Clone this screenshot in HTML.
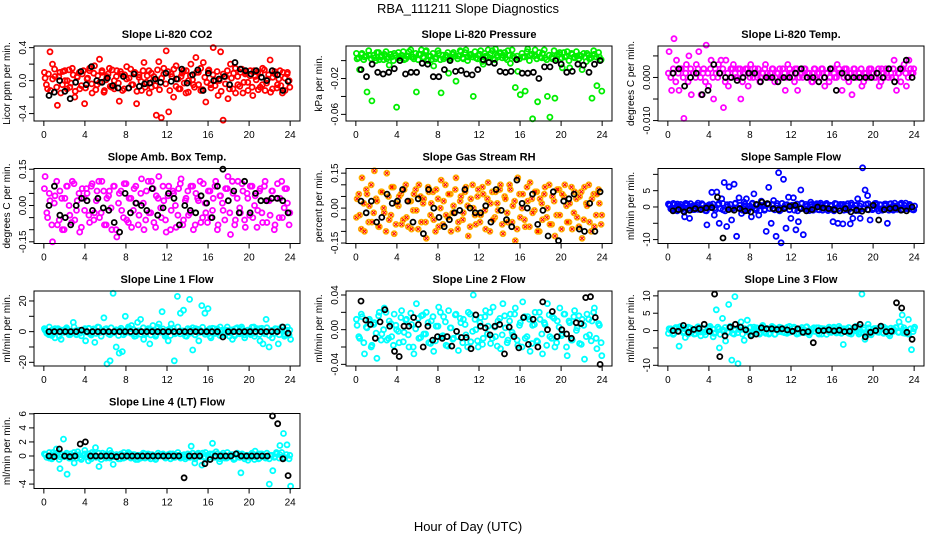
<!DOCTYPE html>
<html><head><meta charset="utf-8"><title>RBA_111211 Slope Diagnostics</title>
<style>
html,body{margin:0;padding:0;background:#fff;}
svg{display:block;font-family:"Liberation Sans",sans-serif;}
</style></head>
<body>
<svg id="chart" width="936" height="540" viewBox="0 0 936 540">
<text x="468" y="13" font-size="13" text-anchor="middle">RBA_111211  Slope Diagnostics</text>
<text x="468" y="531" font-size="13" text-anchor="middle">Hour of Day (UTC)</text>
</svg>
<script>
// ---------- data ----------
const xTicks = [0,4,8,12,16,20,24];
const xTickLabels = ["0","4","8","12","16","20","24"];

const co2Main = [0.03,-0.1,0.35,0.2,0.05,-0.3,0.1,-0.05,0.12,0.0,-0.08,0.15,-0.2,0.05,-0.1,0.08,-0.28,0.02,0.12,-0.15,0.18,-0.05,0.26,0.1,-0.12,0.05,0.15,-0.08,0.0,0.12,-0.25,0.08,-0.1,0.17,0.03,-0.05,0.1,-0.28,0.07,-0.12,0.22,-0.02,0.12,-0.08,0.05,-0.42,0.23,-0.45,0.15,0.36,-0.38,0.08,-0.2,0.18,-0.1,0.05,0.12,-0.15,0.0,0.2,-0.05,0.28,0.1,-0.12,0.22,-0.26,0.12,-0.05,0.4,0.0,-0.18,0.35,-0.48,0.05,-0.22,0.2,-0.1,0.15,-0.05,0.1,-0.15,0.08,-0.02,0.12,-0.18,0.05,0.1,-0.08,0.15,-0.12,0.02,0.25,-0.1,0.08,-0.05,0.12,-0.15,0.03,0.1,-0.08];
const co2Dense = [0.1,-0.05,0.08,-0.12,0.02,0.14,-0.08,0.05,-0.15,0.11,0.0,-0.1,0.13,-0.03,0.07,-0.13,0.04,0.1,-0.06,0.12,-0.09,0.03,0.15,-0.04,0.09,-0.11,0.06,-0.02,0.12,-0.14,0.01,0.08,-0.07,0.13,-0.1,0.05,-0.03,0.11,-0.12,0.07,0.02,-0.09,0.14,-0.05,0.1,-0.13,0.04,-0.01,0.12,-0.08,0.06,-0.15,0.09,0.0,-0.06,0.13,-0.11,0.03,0.08,-0.04,0.11,-0.12,0.05,0.14,-0.07,0.02,-0.1,0.09,-0.03,0.12,-0.14,0.06,0.01,-0.08,0.1,-0.05,0.15,-0.11,0.04,-0.02,0.13,-0.09,0.07,-0.06,0.11,0.0,-0.13,0.08,-0.04,0.12,-0.1,0.03,0.09,-0.15,0.05,-0.07,0.14,-0.02,0.1,-0.12,0.06,-0.08,0.12,0.01,-0.11,0.09,-0.05,0.13,-0.03,0.07,-0.14,0.04,0.11,-0.09,0.02,-0.06,0.1,-0.12,0.08,0.0];
const co2Black = [-0.18,-0.14,0.0,-0.13,-0.22,-0.02,0.11,-0.05,0.17,0.0,-0.02,0.03,-0.06,-0.09,0.05,-0.09,0.08,-0.07,-0.04,-0.03,0.02,-0.02,0.09,-0.01,0.02,0.14,-0.03,0.07,0.13,-0.12,0.09,0.0,0.02,0.05,-0.05,0.22,0.14,0.12,0.08,0.12,0.04,0.0,0.12,0.07,-0.12,-0.01];
const co2Ticks = [-0.4,-0.2,0,0.2,0.4];
const co2Labels = ["-0.4","","0.0","","0.4"];

const presMain = [0.002,-0.01,0.008,0.004,-0.035,0.006,-0.045,0.003,0.009,0.001,0.005,0.007,0.002,-0.005,0.004,0.008,-0.052,0.003,0.006,0.001,0.005,0.01,0.004,0.002,-0.035,0.007,0.012,0.003,0.011,0.005,0.001,-0.006,0.004,0.008,-0.036,0.002,0.006,-0.014,0.003,0.009,-0.023,0.005,0.01,0.002,0.012,0.004,0.007,-0.04,0.003,0.006,0.011,-0.004,0.005,0.012,0.008,0.002,0.013,0.004,0.009,0.006,0.003,0.011,-0.003,0.005,-0.03,-0.012,-0.038,0.004,-0.034,0.013,0.006,-0.065,0.012,-0.046,0.004,0.008,0.003,-0.04,-0.063,0.002,-0.042,0.006,0.009,-0.008,0.004,0.01,-0.008,0.007,0.003,0.005,0.006,-0.01,0.004,0.008,0.002,-0.042,0.007,-0.028,0.004,-0.034];
const presDense = [0.008,0.003,0.007,0.001,0.005,0.011,0.002,0.006,0.0,0.009,0.004,0.001,0.01,0.004,0.007,0.0,0.006,0.009,0.003,0.01,0.002,0.005,0.012,0.004,0.008,0.001,0.007,0.004,0.01,0.0,0.005,0.008,0.002,0.011,0.001,0.006,0.004,0.009,0.001,0.007,0.005,0.002,0.011,0.003,0.009,0.0,0.006,0.004,0.01,0.002,0.007,-0.001,0.008,0.005,0.003,0.011,0.001,0.006,0.008,0.003,0.009,0.001,0.006,0.012,0.003,0.005,0.002,0.008,0.004,0.01,0.0,0.007,0.005,0.002,0.009,0.003,0.012,0.001,0.006,0.004,0.011,0.002,0.007,0.003,0.009,0.005,0.0,0.008,0.004,0.01,0.002,0.005,0.008,-0.001,0.006,0.003,0.011,0.004,0.009,0.001];
const presBlack = [-0.01,-0.018,-0.004,-0.013,-0.015,-0.013,-0.009,0.0,-0.015,-0.013,-0.013,-0.003,-0.004,-0.018,-0.018,-0.01,0.0,-0.012,-0.011,-0.015,-0.016,-0.01,0.001,-0.002,-0.003,-0.012,-0.013,-0.012,0.001,-0.014,-0.014,-0.013,-0.02,-0.007,-0.007,0.0,-0.004,-0.013,-0.012,-0.004,-0.005,-0.013,-0.004,0.0];
const presTicks = [-0.06,-0.04,-0.02,0];
const presLabels = ["-0.06","","-0.02",""];

const ltMain = [0.006,-0.003,0.009,0.004,-0.003,0.002,-0.0095,0.003,0.005,-0.004,0.001,0.003,0.006,-0.004,0.002,0.0075,-0.002,0.004,-0.005,0.001,0.003,0.004,-0.007,0.004,-0.002,0.002,0.003,0.0,0.002,-0.005,0.001,0.002,-0.002,0.003,0.0,0.001,0.002,0.0,0.001,0.003,0.0,0.001,0.002,0.0,0.001,0.0,0.002,-0.003,0.003,0.001,0.0,0.002,-0.003,0.001,0.0,0.002,0.001,0.0,-0.001,0.002,0.001,0.0,0.002,-0.002,0.001,0.0,0.002,0.0,0.003,0.001,-0.003,0.002,0.0,0.001,-0.004,0.002,0.0,0.001,-0.002,0.001,0.0,0.002,0.001,0.0,0.001,-0.002,0.002,0.0,0.001,0.002,0.0,0.004,-0.003,0.001,0.002,0.003,-0.002,0.004,0.001,0.002];
const ltDense = [0.001,0.0,0.002,-0.001,0.001,0.002,0.0,0.001,-0.001,0.002,0.001,0.0,0.002,0.0,0.001,-0.001,0.001,0.002,0.0,0.002,0.0,0.001,0.002,-0.001,0.001,0.0,0.002,0.001,0.0,0.002,-0.001,0.001,0.002,0.0,0.001,0.002,0.0,-0.001,0.001,0.002,0.001,0.0,0.002,-0.001,0.001,0.002,0.0,0.001,0.0,0.002,0.001,-0.001,0.002,0.0,0.001,0.002,0.0,0.001,-0.001,0.002,0.0,0.001,0.002,0.0,0.001,-0.001,0.002,0.001,0.0,0.002,0.001,0.0,0.002,-0.001,0.001,0.002,0.0,0.001,0.002,-0.001,0.001,0.0,0.002,0.001,0.0,0.002,-0.001,0.001,0.002,0.0,0.001,0.002,0.0,0.001,-0.001,0.002,0.001,0.0,0.002,0.001];
const ltBlack = [0.001,0.002,-0.002,0.0,0.001,-0.004,-0.003,0.003,0.001,0.0,0.0,-0.0007,0.0,0.001,0.001,-0.001,0.0,0.0,-0.001,0.0,0.0,0.001,0.002,0.0,0.0,-0.001,0.0,0.002,-0.003,0.001,0.0,0.0,0.0,0.0,0.0,0.001,0.0,0.002,-0.001,0.002,0.004,0.0];
const ltTicks = [-0.01,-0.005,0,0.005];
const ltLabels = ["-0.010","","0.000",""];

const ambMain = [0.12,-0.05,0.02,-0.15,0.04,-0.08,0.06,-0.1,0.03,0.08,-0.04,0.1,-0.06,0.02,-0.11,0.07,-0.02,0.05,-0.07,0.09,-0.03,0.06,-0.05,0.1,-0.08,0.03,0.06,-0.1,0.08,-0.13,0.05,-0.02,0.09,-0.06,0.03,-0.09,0.07,0.01,-0.04,0.11,-0.1,0.06,-0.03,0.1,-0.07,0.04,0.12,-0.05,0.02,-0.11,0.08,-0.02,0.05,-0.09,0.07,0.11,-0.06,0.03,-0.04,0.08,-0.1,0.05,0.02,-0.07,0.09,-0.03,0.06,-0.05,0.03,0.1,-0.08,0.04,-0.02,0.07,0.12,-0.12,0.05,-0.06,0.1,-0.03,0.06,-0.09,0.03,0.08,-0.05,0.04,-0.02,0.07,-0.07,0.1,0.02,-0.04,0.06,-0.08,0.09,0.03,-0.05,0.07,0.01,-0.03];
const ambDense = [0.07,-0.03,0.05,-0.08,0.01,0.1,-0.06,0.03,-0.1,0.08,0.0,-0.07,0.09,-0.02,0.05,-0.09,0.03,0.07,-0.04,0.08,-0.06,0.02,0.1,-0.03,0.06,-0.08,0.04,-0.01,0.08,-0.1,0.01,0.06,-0.05,0.09,-0.07,0.03,-0.02,0.08,-0.08,0.05,0.01,-0.06,0.1,-0.03,0.07,-0.09,0.03,-0.01,0.08,-0.06,0.04,-0.1,0.06,0.0,-0.04,0.09,-0.08,0.02,0.06,-0.03,0.08,-0.08,0.03,0.1,-0.05,0.01,-0.07,0.06,-0.02,0.08,-0.1,0.04,0.01,-0.06,0.07,-0.03,0.1,-0.08,0.03,-0.01,0.09,-0.06,0.05,-0.04,0.08,0.0,-0.09,0.06,-0.03,0.08,-0.07,0.02,0.06,-0.1,0.03,-0.05,0.1,-0.01,0.07,-0.08];
const ambBlack = [0.0,0.08,-0.04,-0.05,-0.08,0.0,0.03,0.02,-0.02,0.03,-0.01,-0.02,-0.07,-0.11,0.05,-0.03,0.01,0.0,-0.02,0.07,-0.04,-0.01,0.05,0.03,-0.08,0.0,-0.02,-0.03,0.04,0.01,-0.05,0.08,0.15,0.02,0.06,-0.03,0.1,-0.03,0.05,0.02,0.02,0.03,0.03,0.02,-0.03];
const ambTicks = [-0.15,-0.1,-0.05,0,0.05,0.1,0.15];
const ambLabels = ["-0.15","","","0.00","","","0.15"];

const rhMain = [0.04,-0.03,0.13,-0.1,0.06,0.01,-0.06,0.16,0.03,-0.08,0.07,-0.02,0.15,-0.05,0.09,-0.11,0.02,0.05,-0.07,0.08,-0.04,0.03,-0.09,0.06,-0.01,0.1,-0.06,0.04,-0.13,0.07,0.02,-0.05,0.08,-0.08,0.12,0.03,-0.03,0.06,-0.1,0.01,0.13,-0.06,0.05,-0.02,0.09,-0.12,0.04,0.0,-0.07,0.08,-0.03,0.06,-0.09,0.11,0.02,-0.05,0.07,-0.01,0.1,-0.11,0.04,-0.06,0.08,0.01,-0.14,0.13,-0.04,0.06,-0.08,0.03,0.11,-0.02,0.07,-0.1,0.04,-0.05,0.09,0.0,-0.07,0.05,-0.12,0.08,-0.03,0.06,0.1,-0.06,0.02,-0.09,0.07,-0.04,0.05,-0.13,0.09,0.01,-0.06,0.04,-0.08,0.06,0.02,-0.03];
const rhDense = [-0.04,0.06,-0.09,0.02,0.08,-0.06,0.1,-0.02,0.04,-0.08,0.07,0.0,-0.1,0.05,-0.03,0.09,-0.07,0.01,0.06,-0.05,0.1,-0.08,0.03,-0.01,0.08,-0.09,0.05,0.02,-0.06,0.09,-0.03,0.07,-0.1,0.04,0.0,-0.07,0.1,-0.04,0.06,-0.02,0.08,-0.09,0.03,-0.05,0.07,0.01,-0.08,0.1,-0.03,0.05,-0.06,0.09,-0.01,0.04,-0.1,0.07,-0.04,0.02,0.08,-0.07,0.05,-0.02,0.1,-0.06,0.03,-0.09,0.06,0.0,-0.05,0.09,-0.08,0.04,-0.01,0.07,-0.1,0.02,0.06,-0.04,0.1,-0.07,0.03,-0.03,0.08,-0.09,0.05,0.01,-0.06,0.09,-0.02,0.04,-0.08,0.07,-0.05,0.02,0.1,-0.1,0.06,-0.03,0.08,-0.07];
const rhBlack = [0.03,-0.02,0.03,-0.06,-0.04,0.06,0.02,0.03,0.08,0.03,-0.06,0.04,-0.11,0.08,0.0,-0.04,-0.08,-0.05,-0.02,-0.01,0.08,0.0,-0.02,-0.02,0.01,-0.06,0.08,-0.01,-0.05,-0.08,0.12,0.02,0.0,0.06,-0.07,-0.01,-0.12,0.07,-0.14,0.03,0.04,0.06,-0.09,-0.1,0.02,-0.1,0.07];
const rhTicks = [-0.15,-0.1,-0.05,0,0.05,0.1,0.15];
const rhLabels = ["-0.15","","","0.00","","","0.15"];

const sfMain = [0.5,-0.5,0.8,-1.2,0.3,-0.6,-3,0.9,-3.5,0.2,-0.8,0.6,-0.3,1,-0.4,-5.5,0.7,4.5,-2.5,4.6,-5,2.5,7.5,-6,6.2,-4,7,-9,2.8,-2,1.5,2.5,-0.5,-3,4,-1,-2.5,1.8,0.5,-7.5,6,-5,2,-9,10.5,-11,8.5,-6.5,3,-3.5,2.8,-7,-4.5,5.2,-8.5,0.8,-0.5,1.5,-1,0.6,-0.8,1.2,-0.3,0.9,-1.1,0.5,-4.5,-0.6,-5,0.8,-5.2,-0.4,1.0,-5.2,-3.5,0.5,2.5,-3.5,12,5.2,3.5,-4,-0.8,1.1,-0.5,0.7,-1,0.4,-5,0.9,-0.6,1.2,-0.3,0.8,-0.9,0.5,-0.2,0.6,-0.7,0.3];
const sfBand = [0.6,-0.8,0.9,-0.5,1.1,-1.0,0.4,-0.7,0.8,-1.2,0.5,-0.3,1.0,-0.9,0.7,-0.6,1.2,-0.4,0.3,-1.1,0.9,-0.7,0.5,-1.0,0.8,-0.5,1.1,-0.8,0.6,-0.9,0.4,-1.2,1.0,-0.6,0.7,-0.3,0.9,-1.0,0.5,-0.7,1.1,-0.4,0.8,-0.9,0.6,-1.1,0.3,-0.5,1.0,-0.8,0.7,-0.6,0.9,-1.0,0.4,-0.7,1.2,-0.5,0.8,-0.9];
const sfDense = [0.9,-0.6,1.1,-1.0,0.3,0.8,-1.2,0.5,-0.4,1.0,-0.8,0.2,1.2,-0.7,0.6,-1.1,0.4,-0.2,0.9,-0.9,0.7,-0.5,1.1,-1.2,0.1,0.8,-0.6,1.0,-0.3,0.5,-1.0,0.9,-0.8,0.3,1.2,-0.4,0.6,-1.1,0.2,-0.7,1.0,-0.5,0.8,-0.9,0.4,-1.2,1.1,-0.1,0.7,-0.8,0.5,-1.0,0.9,-0.3,1.2,-0.6,0.2,-1.1,0.8,-0.4,1.0,-0.9,0.6,-0.2,1.1,-0.7,0.3,-1.2,0.9,-0.5,0.7,-1.0,0.4,-0.8,1.2,-0.3,0.5,-1.1,1.0,-0.6,0.8,-0.9,0.2,-0.4,1.1,-1.2,0.6,-0.7,0.9,-0.1,1.0,-1.0,0.3,-0.5,0.7,-0.8,1.2,-0.6,0.4,-0.9];
const sfBlack = [-1.2,-0.8,-1.5,-1,-0.5,-0.8,-0.3,-0.2,3,-9.5,-0.8,-1,-0.5,-1.2,-1.5,0.8,1.5,1,-0.5,-0.8,-0.5,0.2,0.5,-0.5,-1.2,-0.8,0,-0.3,-0.5,-0.8,-1.2,-0.5,-1.5,-1,-1.3,-0.8,0.5,-4,-0.8,-0.5,-0.3,-1,-1.2,0];
const sfTicks = [-10,-5,0,5,10];
const sfLabels = ["-10","","0","5",""];

const l1Main = [0.5,-2,1,-4,2,-5,0.5,1.5,-1,6,-2,0.5,1,-6,2,-1,-7,3,0.5,9,-21,-19,25,-10,-14,-13,10,2,4,-3,6,8,-5,1,-8,4,-2,5,13,-3,-6,5,-19,23,12,14,-3,21,-12,2,-6,17,12,15,-4,2,-1,3,-2,1,-3,-5,2,-1,3,-4,1,-2,3,2,-6,-8,8,-10,-4,2,-8,1,-3,3,-5];
const l1Band = [1,-1.5,2,-0.5,1.5,-2,0.5,-1,2,-1.5,1,-0.5,1.5,-2,0.5,1,-1,2,-1.5,0.5,-2,1.5,-0.5,1,-1,2,-1.5,0.5,-1,1.5,-2,1,-0.5,2,-1,0.5,-1.5,1,-2,1.5,-0.5,1,-1,2,-1.5,0.5,-1,1.5,-2,1];
const l1Dense = [2,-1,3,-2.5,0.5,1.5,-3,1,-0.5,2.5,-2,0,3,-1.5,1,-2.8,0.8,-0.3,2.2,-2.2,1.8,-1.2,2.8,-3,0.2,2,-1.5,2.5,-0.8,1.2,-2.5,2.2,-2,0.8,3,-1,1.5,-2.8,0.5,-1.8,2.5,-1.2,2,-2.2,1,-3,2.8,-0.3,1.8,-2,1.2,-2.5,2.2,-0.8,3,-1.5,0.5,-2.8,2,-1,2.5,-2.2,1.5,-0.5,2.8,-1.8,0.8,-3,2.2,-1.2,1.8,-2.5,1,-2,3,-0.8,1.2,-2.8,2.5,-1.5,2,-2.2,0.5,-1,2.8,-3,1.5,-1.8,2.2,-0.3,2.5,-2.5,0.8,-1.2,1.8,-2,3,-1.5,1,-2.2];
const l1Black = [0,0,0,0,0,0,1,0,0,0,0,0,0,0,0,0,0,0,0,0,0,0,0,0,0,0,0,0,0,0,0,0,-3.5,0,0,0,0,0,0,0,0,0,0,3,-1];
const l1Ticks = [-20,-10,0,10,20];
const l1Labels = ["-20","","0","","20"];

const l2Main = [0.005,-0.01,0.015,-0.028,0.002,0.012,-0.018,0.008,-0.033,0.02,-0.005,0.025,-0.012,0.01,-0.008,0.018,0.0,-0.015,0.022,-0.003,0.012,-0.02,0.006,-0.028,0.03,-0.01,0.016,-0.005,0.02,-0.015,0.01,-0.025,0.004,0.026,-0.008,0.015,-0.018,0.022,0.002,-0.01,0.018,-0.024,0.008,0.012,-0.006,0.02,-0.014,0.04,0.0,-0.02,0.014,-0.01,0.022,0.004,-0.016,0.026,-0.008,0.01,-0.022,0.03,0.002,-0.012,0.018,-0.006,0.025,-0.018,0.008,0.032,-0.01,0.015,-0.025,0.005,0.02,-0.014,0.012,-0.028,0.006,0.03,-0.008,0.015,-0.02,0.01,0.025,-0.005,0.018,-0.03,0.008,-0.012,0.022,0.002,-0.016,0.012,-0.034,0.018,-0.006,0.01,0.025,-0.022,0.005,-0.03];
const l2Dense = [0.012,-0.008,0.018,-0.015,0.003,0.01,-0.02,0.006,-0.004,0.016,-0.012,0.0,0.02,-0.01,0.007,-0.018,0.005,-0.002,0.014,-0.014,0.011,-0.006,0.019,-0.02,0.001,0.013,-0.009,0.017,-0.005,0.008,-0.016,0.015,-0.013,0.004,0.02,-0.007,0.009,-0.019,0.002,-0.011,0.017,-0.008,0.013,-0.015,0.006,-0.02,0.018,-0.002,0.012,-0.013,0.008,-0.017,0.015,-0.005,0.02,-0.01,0.003,-0.019,0.013,-0.006,0.016,-0.015,0.01,-0.003,0.018,-0.012,0.005,-0.02,0.015,-0.008,0.012,-0.016,0.006,-0.013,0.02,-0.005,0.008,-0.018,0.017,-0.01,0.013,-0.015,0.003,-0.007,0.018,-0.02,0.01,-0.012,0.015,-0.001,0.016,-0.017,0.005,-0.008,0.012,-0.013,0.02,-0.01,0.007,-0.015];
const l2Black = [0.033,0.011,0.006,-0.01,0.009,0.023,0.004,-0.025,-0.031,0.004,0.004,0.014,0.006,-0.02,0.004,-0.012,-0.008,-0.01,-0.008,-0.019,-0.002,-0.009,-0.009,-0.022,0.017,0.004,0.002,-0.006,0.004,0.006,-0.028,0.003,-0.008,-0.021,0.014,-0.017,0.012,-0.02,0.032,0.0,0.021,-0.008,0.0,-0.005,-0.01,0.008,0.007,0.037,0.038,0.014,-0.04];
const l2Ticks = [-0.04,-0.02,0,0.02,0.04];
const l2Labels = ["-0.04","","0.00","","0.04"];

const l3Main = [0.2,-1,0.5,-4.5,0.8,-2,1,-0.5,0.3,1,-1.5,0.5,-0.3,1.2,-1.8,6,-5,3.5,-3,7.5,-8.5,9.8,-9.5,2.5,-2.8,3,1,-0.5,0.8,-1,1.5,-0.8,0.5,1.2,-1,0.3,0.8,-0.6,1,-0.4,0.6,-0.8,0.5,-0.3,1,-0.6,0.4,-0.2,0.8,-1,0.3,0.6,-0.5,0.9,-0.4,0.7,-4,0.5,-0.8,0.3,1.2,-0.5,10.5,-2.5,1.8,-1,0.6,-0.4,0.8,-0.6,0.5,-1.5,0.3,0.8,2.5,4.5,-0.8,3.2,-5.5,1];
const l3Band = [0.5,-0.8,1,-0.3,0.8,-1,0.3,-0.5,1,-0.8,0.5,-0.3,0.8,-1,0.3,0.5,-0.5,1,-0.8,0.3,-1,0.8,-0.3,0.5,-0.5,1,-0.8,0.3,-0.5,0.8,-1,0.5,-0.3,1,-0.5,0.3,-0.8,0.5,-1,0.8,-0.3,0.5,-0.5,1,-0.8,0.3,-0.5,0.8,-1,0.5];
const l3Dense = [-0.8,0.5,-1.1,0.9,-0.2,1.2,-0.6,0.3,-1.0,0.7,0.0,-0.9,1.1,-0.4,0.6,-1.2,0.8,-0.3,0.4,-0.7,1.0,-1.1,0.2,0.9,-0.5,1.2,-0.8,0.1,-0.6,1.0,-1.0,0.5,-0.2,0.8,-1.2,0.4,0.7,-0.9,1.1,-0.3,0.6,-0.7,0.9,-1.1,0.2,1.0,-0.4,0.5,-0.8,1.2,-0.1,0.7,-1.0,0.3,0.9,-0.6,1.1,-1.2,0.4,-0.2,0.8,-0.9,0.6,0.1,-1.1,1.0,-0.5,0.3,-0.7,1.2,-0.8,0.5,-0.3,0.9,-1.0,0.7,-0.1,1.1,-0.6,0.2,-0.9,0.8,-1.2,0.4,0.6,-0.4,1.0,-0.8,0.3,-1.1,0.7,-0.2,0.9,-0.5,1.2,-0.7,0.1,-1.0,0.5,-0.3];
const l3Black = [0,-0.2,1.5,-0.5,0.3,0.6,1.8,-0.2,10.5,-7.5,-1.5,1,1.8,1,0.2,-1.5,-1,0.8,0.5,0.5,0.3,0.5,0.2,-0.2,0.5,-0.5,-0.3,-3.5,0,0,0.2,-0.1,0.1,-0.3,-0.2,1,1.8,-1.8,-0.5,0,1.3,-0.3,-0.2,8,6.5,-0.5,-2.5];
const l3Ticks = [-10,-5,0,5,10];
const l3Labels = ["-10","","0","5","10"];

const l4Main = [0.2,-0.3,0.5,1,-1.8,2.4,-2.6,0.3,-1,0.6,-0.5,0.8,-0.7,0.5,1.2,-1.5,0.4,-0.3,0.8,-1.2,0.2,-0.4,0.5,0.3,-0.3,0.2,-0.5,0.1,0.3,-0.2,0.2,-0.4,0.1,0.2,-0.1,0.3,-0.2,0.1,-0.3,0.2,-0.2,1.4,-1,0.4,-1.3,0.5,-0.2,1.8,0.6,-0.8,0.4,-0.3,0.2,-0.5,0.3,-2.4,0.1,-0.6,0.3,0.7,-0.4,0.2,-0.3,-4,-2.1,0.5,1.5,3.2,1.6,-4.3];
const l4Band = [0.2,-0.3,0.3,-0.1,0.2,-0.3,0.1,-0.2,0.3,-0.2,0.1,-0.1,0.2,-0.3,0.1,0.2,-0.2,0.3,-0.2,0.1,-0.3,0.2,-0.1,0.1,-0.2,0.3,-0.2,0.1,-0.1,0.2,-0.3,0.1,-0.1,0.3,-0.1,0.1,-0.2,0.1,-0.3,0.2,-0.1,0.1,-0.1,0.3,-0.2,0.1,-0.1,0.2,-0.3,0.1];
const l4Dense = [0.3,-0.2,0.5,-0.4,0.1,0.4,-0.5,0.2,-0.1,0.4,-0.3,0.0,0.5,-0.3,0.2,-0.4,0.1,-0.1,0.3,-0.4,0.3,-0.2,0.4,-0.5,0.0,0.3,-0.2,0.4,-0.1,0.2,-0.4,0.3,-0.3,0.1,0.5,-0.2,0.2,-0.5,0.1,-0.3,0.4,-0.2,0.3,-0.4,0.1,-0.5,0.4,0.0,0.3,-0.3,0.2,-0.4,0.3,-0.1,0.5,-0.2,0.1,-0.4,0.3,-0.2,0.4,-0.4,0.2,-0.1,0.4,-0.3,0.1,-0.5,0.3,-0.2,0.3,-0.4,0.1,-0.3,0.5,-0.1,0.2,-0.4,0.4,-0.2,0.3,-0.4,0.1,-0.2,0.4,-0.5,0.2,-0.3,0.3,0.0,0.4,-0.4,0.1,-0.2,0.3,-0.3,0.5,-0.2,0.2,-0.4];
const l4Black = [0,-0.1,1,0,-0.1,0,1.7,2,0,0,0,0,0,-0.1,0,0,0,0,0,0,0,0,0,0,0,0,-3.1,0,0,0,-1.1,-0.5,0,0,0,0,0.3,0,0,0,0,0,0,5.7,4.6,-0.4,-2.8];
const l4Ticks = [-4,-2,0,2,4,6];
const l4Labels = ["-4","","0","2","4","6"];

// ---------- layout ----------
const SVGNS = "http://www.w3.org/2000/svg";
const svg = document.getElementById("chart");
const COLX = [34, 346, 658], ROWY = [46, 168.5, 291, 413.5];
const PW = 266, PH = 75, XMIN = -0.96, XMAX = 24.96;

const panels = [
 {name:"co2", title:"Slope Li-820 CO2", ylab:"Licor ppm per min.", c:0, r:0, ymin:-0.49, ymax:0.42, color:"#ff0000", mains:[co2Dense, co2Main], black:co2Black, ticks:co2Ticks, labels:co2Labels},
 {name:"pressure", title:"Slope Li-820 Pressure", ylab:"kPa per min.", c:1, r:0, ymin:-0.0674, ymax:0.0163, color:"#00ee00", mains:[presDense, presMain], black:presBlack, ticks:presTicks, labels:presLabels},
 {name:"li820-temp", title:"Slope Li-820 Temp.", ylab:"degrees C per min.", c:2, r:0, ymin:-0.0101, ymax:0.0073, color:"#ff00ff", mains:[ltDense, ltMain], black:ltBlack, ticks:ltTicks, labels:ltLabels},
 {name:"amb-box-temp", title:"Slope Amb. Box Temp.", ylab:"degrees C per min.", c:0, r:1, ymin:-0.157, ymax:0.153, color:"#ff00ff", mains:[ambDense, ambMain], black:ambBlack, ticks:ambTicks, labels:ambLabels},
 {name:"gas-stream-rh", title:"Slope Gas Stream RH", ylab:"percent per min.", c:1, r:1, ymin:-0.152, ymax:0.17, color:"#ffb000", cross:true, mains:[rhDense, rhMain], black:rhBlack, ticks:rhTicks, labels:rhLabels},
 {name:"sample-flow", title:"Slope Sample Flow", ylab:"ml/min per min.", c:2, r:1, ymin:-11.2, ymax:11.8, color:"#0000ff", mains:[sfDense, sfBand, sfMain], black:sfBlack, ticks:sfTicks, labels:sfLabels},
 {name:"line1-flow", title:"Slope Line 1 Flow", ylab:"ml/min per min.", c:0, r:2, ymin:-22.4, ymax:26.5, color:"#00ffff", mains:[l1Dense, l1Band, l1Main], black:l1Black, ticks:l1Ticks, labels:l1Labels},
 {name:"line2-flow", title:"Slope Line 2 Flow", ylab:"ml/min per min.", c:1, r:2, ymin:-0.0419, ymax:0.0446, color:"#00ffff", mains:[l2Dense, l2Main], black:l2Black, ticks:l2Ticks, labels:l2Labels},
 {name:"line3-flow", title:"Slope Line 3 Flow", ylab:"ml/min per min.", c:2, r:2, ymin:-10.2, ymax:11.4, color:"#00ffff", mains:[l3Dense, l3Band, l3Main], black:l3Black, ticks:l3Ticks, labels:l3Labels},
 {name:"line4-flow", title:"Slope Line 4 (LT) Flow", ylab:"ml/min per min.", c:0, r:3, ymin:-4.63, ymax:6.05, color:"#00ffff", mains:[l4Dense, l4Band, l4Main], black:l4Black, ticks:l4Ticks, labels:l4Labels}
];

function mk(tag, attrs, parent){
  const e = document.createElementNS(SVGNS, tag);
  for (const k in attrs) e.setAttribute(k, attrs[k]);
  (parent || svg).appendChild(e);
  return e;
}

panels.forEach(p => {
  const x0 = COLX[p.c], y0 = ROWY[p.r];
  const sx = t => x0 + (t - XMIN) / (XMAX - XMIN) * PW;
  const sy = v => y0 + (p.ymax - v) / (p.ymax - p.ymin) * PH;
  const g = mk("g", {});
  
  

  const title = mk("text", {x: x0 + PW/2, y: y0 - 8, "font-size": 11, "font-weight": "bold", "text-anchor": "middle"}, g);
  title.textContent = p.title;
  
  

  const yl = mk("text", {x: 0, y: 0, "font-size": 10, "text-anchor": "middle", transform: `translate(${x0 - 24},${y0 + PH/2}) rotate(-90)`}, g);
  yl.textContent = p.ylab;
  
  

  const pts = mk("g", {fill: "none", "stroke-width": 1.8}, g);
  
  
  p.mains.forEach((arr, k) => {
    const n = arr.length;
    const start = 0.05 + k * 0.07;
    arr.forEach((v, i) => {
      const t = start + i * 23.85 / (n - 1);
      const cx = sx(t), cy = sy(v);
      const c = mk("circle", {cx: cx.toFixed(1), cy: cy.toFixed(1), r: 2.5, stroke: p.color}, pts);
      
      
      if (p.cross) {
        mk("path", {d: `M${cx-1.6},${cy-1.6}L${cx+1.6},${cy+1.6}M${cx-1.6},${cy+1.6}L${cx+1.6},${cy-1.6}`, stroke: "#ff0000", "stroke-width": 1}, pts);
      }
    });
  });
  const bg = mk("g", {fill: "none", stroke: "#000", "stroke-width": 1.8}, g);
  
  
  const nb = p.black.length;
  p.black.forEach((v, i) => {
    const t = 0.5 + i * 23.3 / (nb - 1);
    const c = mk("circle", {cx: sx(t).toFixed(1), cy: sy(v).toFixed(1), r: 2.5}, bg);
    
    
  });

  const box = mk("rect", {x: x0, y: y0, width: PW, height: PH, fill: "none", stroke: "#000", "stroke-width": 1}, g);
  
  

  const xa = mk("g", {stroke: "#000", "stroke-width": 1}, g);
  
  
  xTicks.forEach((t, i) => {
    const x = sx(t);
    mk("line", {x1: x, x2: x, y1: y0 + PH, y2: y0 + PH + 5}, xa);
    const lb = mk("text", {x: x, y: y0 + PH + 17, "font-size": 10, "text-anchor": "middle", stroke: "none"}, xa);
    lb.textContent = xTickLabels[i];
    
    
  });
  const ya = mk("g", {stroke: "#000", "stroke-width": 1}, g);
  
  
  p.ticks.forEach((v, i) => {
    const y = sy(v);
    mk("line", {x1: x0 - 5, x2: x0, y1: y, y2: y}, ya);
    if (p.labels[i]) {
      const lb = mk("text", {x: 0, y: 0, "font-size": 10, "text-anchor": "middle", stroke: "none", transform: `translate(${x0 - 8},${y}) rotate(-90)`}, ya);
      lb.textContent = p.labels[i];
      
      
    }
  });
});
</script>
</body></html>
